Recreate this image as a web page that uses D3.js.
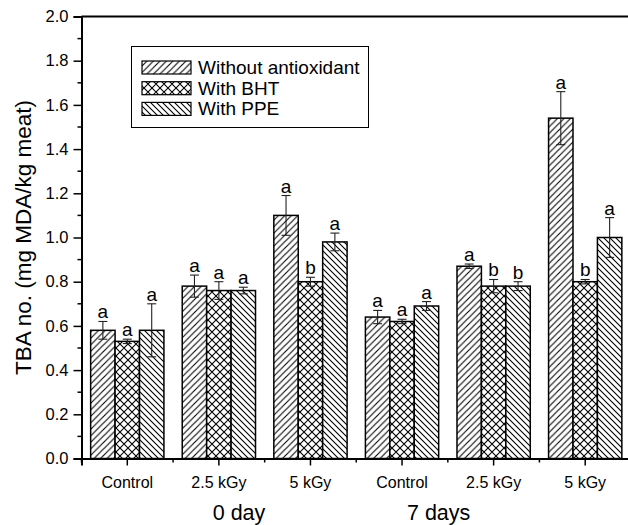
<!DOCTYPE html>
<html><head><meta charset="utf-8">
<script src="https://cdn.jsdelivr.net/npm/d3@7"></script>
<style>
html,body{margin:0;padding:0;background:#fff;}
text{font-family:Arial,"Liberation Sans",sans-serif;fill:#000;}
</style></head>
<body>
<svg id="chart" width="628" height="525"></svg>
<script>
// ---- data ----
const categories = ["Control","2.5 kGy","5 kGy","Control","2.5 kGy","5 kGy"];
const groupLabels = ["0 day","7 days"];
const groupLabelPos = [1.72, 3.9]; // in band units
const seriesNames = ["Without antioxidant","With BHT","With PPE"];
const withoutAnti = [0.58, 0.78, 1.10, 0.64, 0.87, 1.54];
const withoutErr  = [0.04, 0.05, 0.09, 0.03, 0.01, 0.12];
const withBHT     = [0.53, 0.76, 0.80, 0.62, 0.78, 0.80];
const bhtErr      = [0.01, 0.04, 0.02, 0.01, 0.03, 0.01];
const withPPE     = [0.58, 0.76, 0.98, 0.69, 0.78, 1.00];
const ppeErr      = [0.12, 0.015, 0.04, 0.02, 0.02, 0.09];
const letters1 = ["a","a","a","a","a","a"];
const letters2 = ["a","a","b","a","b","b"];
const letters3 = ["a","a","a","a","b","a"];
const yTicks = [0.0,0.2,0.4,0.6,0.8,1.0,1.2,1.4,1.6,1.8,2.0];
const yLabel = "TBA no. (mg MDA/kg meat)";

const values = [withoutAnti, withBHT, withPPE];
const errs = [withoutErr, bhtErr, ppeErr];
const lets = [letters1, letters2, letters3];

// ---- layout ----
const svg = d3.select("#chart");
const L = 81.5, R = 631, T = 16.5, B = 458.5;
const x = d3.scaleBand().domain(d3.range(categories.length)).range([L, R]).paddingInner(0).paddingOuter(0);
const xs = d3.scaleBand().domain(d3.range(3)).range([0, x.bandwidth()*0.8]);
const y = d3.scaleLinear().domain([0, 2]).range([B, T]);
const bw = x.bandwidth();
const off = bw*0.1;
const FF = "Arial, 'Liberation Sans', sans-serif";

// patterns
const defs = svg.append("defs");
function hatch(id, size, fn){
  const p = defs.append("pattern").attr("id", id).attr("patternUnits","userSpaceOnUse")
    .attr("width", size).attr("height", size);
  p.append("rect").attr("width", size).attr("height", size).attr("fill","#fff");
  fn(p, size);
}
hatch("p0", 6.5, (p,s)=>{
  p.append("path").attr("d",`M0,${s} L${s},0 M${-s/2},${s/2} L${s/2},${-s/2} M${s/2},${s*1.5} L${s*1.5},${s/2}`)
   .attr("stroke","#000").attr("stroke-width",1.1);
});
hatch("p1", 8, (p,s)=>{
  p.append("path").attr("d",`M0,${s} L${s},0 M${-s/2},${s/2} L${s/2},${-s/2} M${s/2},${s*1.5} L${s*1.5},${s/2} M0,0 L${s},${s} M${-s/2},${s/2} L${s/2},${s*1.5} M${s/2},${-s/2} L${s*1.5},${s/2}`)
   .attr("stroke","#000").attr("stroke-width",1.1);
});
hatch("p2", 6, (p,s)=>{
  p.append("path").attr("d",`M0,0 L${s},${s} M${-s/2},${s/2} L${s/2},${s*1.5} M${s/2},${-s/2} L${s*1.5},${s/2}`)
   .attr("stroke","#000").attr("stroke-width",1.1);
});

// bars
for (let si=0; si<3; si++){
  const g = svg.append("g");
  values[si].forEach((v,i)=>{
    const x0 = x(i) + off + xs(si);
    g.append("rect").attr("x", x0).attr("y", y(v)).attr("width", xs.bandwidth()).attr("height", y(0)-y(v))
      .attr("fill", `url(#p${si})`).attr("stroke","#000").attr("stroke-width",1.5);
  });
}
// error bars + letters
for (let si=0; si<3; si++){
  values[si].forEach((v,i)=>{
    const cx = x(i) + off + xs(si) + xs.bandwidth()/2;
    const e = errs[si][i];
    const y1 = y(v+e), y2 = y(v-e);
    svg.append("line").attr("x1",cx).attr("x2",cx).attr("y1",y1).attr("y2",y2).attr("stroke","#222").attr("stroke-width",1.1);
    svg.append("line").attr("x1",cx-4.5).attr("x2",cx+4.5).attr("y1",y1).attr("y2",y1).attr("stroke","#222").attr("stroke-width",1.1);
    svg.append("line").attr("x1",cx-4.5).attr("x2",cx+4.5).attr("y1",y2).attr("y2",y2).attr("stroke","#222").attr("stroke-width",1.1);
    svg.append("text").attr("x",cx).attr("y",y1-3).attr("text-anchor","middle").attr("font-size",19).text(lets[si][i]);
  });
}

// frame top
svg.append("line").attr("x1",L).attr("x2",R).attr("y1",T).attr("y2",T).attr("stroke","#000").attr("stroke-width",2);
svg.append("line").attr("x1",R).attr("x2",R).attr("y1",T).attr("y2",B).attr("stroke","#000").attr("stroke-width",2);

// y axis
const yAxis = d3.axisLeft(y).tickValues(yTicks).tickFormat(d3.format(".1f")).tickSize(8).tickPadding(5);
const ya = svg.append("g").attr("transform",`translate(${L},0)`).call(yAxis);
ya.select(".domain").attr("stroke-width",2);
ya.selectAll(".tick line").attr("stroke-width",1.5);
ya.selectAll("text").attr("font-size",16.5).style("font-family",FF);
const yMinor = d3.range(0.1, 2.0, 0.2);
svg.append("g").selectAll("line").data(yMinor).join("line")
  .attr("x1",L-4).attr("x2",L).attr("y1",d=>y(d)).attr("y2",d=>y(d)).attr("stroke","#000").attr("stroke-width",1.5);

// x axis
const xa = svg.append("g").attr("transform",`translate(0,${B})`)
  .call(d3.axisBottom(x).tickFormat(i=>categories[i]).tickSize(7).tickPadding(11));
xa.select(".domain").attr("stroke-width",2);
xa.selectAll(".tick line").attr("stroke-width",1.5);
xa.selectAll("text").attr("font-size",16).style("font-family",FF);
svg.append("g").selectAll("line").data(d3.range(categories.length+1)).join("line")
  .attr("x1",d=>L+d*bw).attr("x2",d=>L+d*bw).attr("y1",B).attr("y2",B+4).attr("stroke","#000").attr("stroke-width",1.5);

// group labels
groupLabels.forEach((t,i)=>{
  svg.append("text").attr("x", L + groupLabelPos[i]*bw).attr("y", 520).attr("text-anchor","middle")
    .attr("font-size",21.5).text(t);
});

// y label
svg.append("text").attr("transform",`translate(31,${(T+B)/2}) rotate(-90)`).attr("text-anchor","middle")
  .attr("font-size",22.5).text(yLabel);

// legend
const lg = svg.append("g");
lg.append("rect").attr("x",131.5).attr("y",46.5).attr("width",237).attr("height",81).attr("fill","#fff").attr("stroke","#000").attr("stroke-width",1);
seriesNames.forEach((n,i)=>{
  const yy = 61 + i*20.7;
  lg.append("rect").attr("x",142).attr("y",yy).attr("width",49).attr("height",13)
    .attr("fill",`url(#p${i})`).attr("stroke","#000").attr("stroke-width",1.2);
  lg.append("text").attr("x",198).attr("y",yy+13).attr("font-size",19).text(n);
});
</script>
</body></html>
